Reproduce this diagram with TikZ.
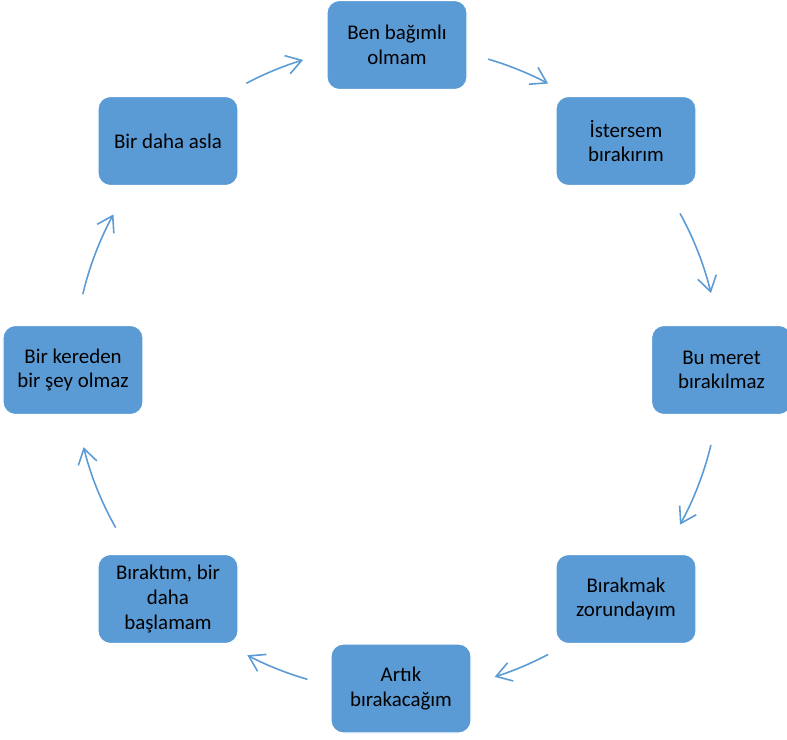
\documentclass[tikz,border=0pt]{standalone}
\usepackage{fontspec}
\setmainfont{Carlito}
\usetikzlibrary{arrows.meta}
\definecolor{boxblue}{HTML}{5B9BD5}

\begin{document}
\begin{tikzpicture}[
  box/.style={draw=white, line width=0.6pt, fill=boxblue, rounded corners=0.25cm,
    minimum width=2.8cm, minimum height=1.78cm, align=center,
    font=\fontsize{11.9}{14}\selectfont, text=black},
  cyc/.style={draw=boxblue, line width=0.9pt, -{Straight Barb[length=0.3cm,width=0.38cm]}}]
\useasboundingbox (-7.94,-7.40) rectangle (7.80,7.38);

\node [box] (bagimli) at (0,6.48) {Ben bağımlı\\olmam};
\node [box] (istersem) at (4.58,4.56) {İstersem\\bırakırım};
\node [box] (meret) at (6.49,-0.02) {Bu meret\\bırakılmaz};
\node [box] (zorunda) at (4.58,-4.6) {Bırakmak\\zorundayım};
\node [box] (artik) at (0.08,-6.39) {Artık\\bırakacağım};
\node [box] (biraktim) at (-4.58,-4.6) {Bıraktım, bir\\daha\\başlamam};
\node [box] (kereden) at (-6.48,-0.02) {Bir kereden\\bir şey olmaz};
\node [box] (asla) at (-4.58,4.56) {Bir daha asla};

% arrows round the cycle
\foreach \a/\b [count=\i] in {73.6/62.1, 28.8/13.6, -13.6/-28.8, -62.1/-72.4,
    -106.1/-117.6, -150.6/-166, 166.6/151.4, 117.8/106.9} {
  \coordinate (t\i) at (\a:6.46);
  \draw [cyc] (t\i) arc [start angle=\a, end angle=\b, radius=6.46];
}
\end{tikzpicture}
\end{document}
